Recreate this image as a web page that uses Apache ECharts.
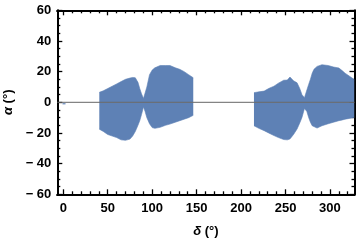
<!DOCTYPE html>
<html>
<head>
<meta charset="utf-8">
<script src="https://cdn.jsdelivr.net/npm/echarts@6/dist/echarts.min.js"></script>
<style>
html,body{margin:0;padding:0;background:#fff;}
#c{width:360px;height:244px;}
</style>
</head>
<body>
<div id="c"></div>
<script>
// ---- data ----
const xMajorTicks = [0, 50, 100, 150, 200, 250, 300];
const xMinorTicks = [10, 20, 30, 40, 60, 70, 80, 90, 110, 120, 130, 140, 160, 170, 180, 190, 210, 220, 230, 240, 260, 270, 280, 290, 310, 320];

const blob1X = [40.5, 45, 50, 55, 60, 65, 70, 75, 78, 81, 84, 86, 88, 90.2, 92, 94, 97, 100, 103, 109, 115, 120, 126, 131, 136, 141, 146.2];
const blob1Top = [6.5, 7.5, 9, 10.5, 12, 13.5, 15, 15.8, 16.2, 16, 13, 9, 5.5, 2.5, 6, 10, 18, 21, 22.5, 24, 24, 24, 22.5, 21.5, 20, 18, 16];
const blob1Bottom = [-17.5, -19, -21, -22, -23, -24.5, -24.8, -24, -22, -19, -15, -12, -8, -3, -6, -10, -14, -16.5, -17, -16.3, -15, -14.2, -13, -12, -11, -10, -8.5];

const blob2X = [214.5, 220, 226, 231, 237, 242, 248, 252, 255, 259, 263, 266, 268.5, 271.3, 274, 276, 278, 280, 282, 285.5, 291, 298, 304, 310, 314, 317, 322, 327.3];
const blob2Top = [6.3, 6.8, 7.3, 9, 10.5, 12.5, 14.4, 14.5, 16.5, 14, 12.7, 9, 5, 3, 8, 11.6, 15, 19, 21.5, 23.4, 24.5, 24, 23, 22.4, 20.5, 19, 17, 14.8];
const blob2Bottom = [-15.3, -17, -18.5, -20, -21.7, -23, -24.3, -24.5, -23.9, -21, -17.4, -13.5, -9.9, -4, -6, -9.9, -13, -15.3, -16, -16.8, -15.3, -14, -13, -12, -11.5, -11, -10.5, -9.9];

const zeroLineX = [-6.75, 327.6];
const zeroLineY = [0, 0];

const strayPoint = [[0.8, -0.9]];

// ---- styling ----
const BLUE = '#5E81B5';
const FONT = 'Liberation Sans, Arial, sans-serif';
const zip = (xs, ys) => xs.map((x, i) => [x, ys[i]]);

function bandSeries(xs, ys) {
  return {
    type: 'line',
    data: zip(xs, ys),
    symbol: 'none',
    lineStyle: { color: BLUE, width: 0.6 },
    areaStyle: { color: BLUE, opacity: 1, origin: 0 },
    silent: true,
    z: 2
  };
}

const XMIN = -6.75, XMAX = 327.6;
const axisLineStyle = { color: '#000', width: 2 };
const tickStyle = { color: '#000', width: 1.3 };

const labelStyle = { fontFamily: FONT, fontWeight: 'bold', fontSize: 13, color: '#000' };

function xAxisDef(pos, values, len, withLabels) {
  const a = {
    type: 'value', position: pos, min: XMIN, max: XMAX,
    axisLine: { show: true, onZero: false, lineStyle: axisLineStyle },
    axisTick: { show: true, inside: true, length: len, customValues: values, lineStyle: tickStyle },
    axisLabel: withLabels ? Object.assign({ show: true, customValues: values, margin: 8 }, labelStyle) : { show: false },
    splitLine: { show: false }
  };
  if (withLabels) {
    a.name = '{i|δ} (°)';
    a.nameLocation = 'middle';
    a.nameGap = 31;
    a.nameTextStyle = Object.assign({
      rich: { i: Object.assign({ fontStyle: 'italic' }, labelStyle) }
    }, labelStyle);
  }
  return a;
}

function yAxisDef(pos, withLabels) {
  const a = {
    type: 'value', position: pos, min: -60, max: 60, interval: 20,
    axisLine: { show: true, onZero: false, lineStyle: axisLineStyle },
    axisTick: { show: true, inside: true, length: 5, lineStyle: tickStyle },
    minorTick: { show: true, splitNumber: 4, length: 3, lineStyle: tickStyle },
    axisLabel: withLabels ? Object.assign({
      show: true, margin: 6,
      formatter: v => v < 0 ? '\u2212 ' + Math.abs(v) : String(v)
    }, labelStyle) : { show: false },
    splitLine: { show: false }
  };
  if (withLabels) {
    a.name = '{i|α} (°)';
    a.nameLocation = 'middle';
    a.nameGap = 40;
    a.nameTextStyle = Object.assign({
      rich: { i: Object.assign({ fontStyle: 'italic' }, labelStyle) }
    }, labelStyle);
  }
  return a;
}

const chart = echarts.init(document.getElementById('c'), null, { renderer: 'canvas' });
chart.setOption({
  animation: false,
  backgroundColor: '#fff',
  grid: { left: 57.3, top: 10.3, right: 5.5, bottom: 49.7, containLabel: false, outerBoundsMode: 'none' },
  xAxis: [
    xAxisDef('bottom', xMajorTicks, 5, true),
    xAxisDef('bottom', xMinorTicks, 3, false),
    xAxisDef('top', xMajorTicks, 5, false),
    xAxisDef('top', xMinorTicks, 3, false)
  ],
  yAxis: [
    yAxisDef('left', true),
    yAxisDef('right', false)
  ],
  series: [
    bandSeries(blob1X, blob1Top),
    bandSeries(blob1X, blob1Bottom),
    bandSeries(blob2X, blob2Top),
    bandSeries(blob2X, blob2Bottom),
    {
      type: 'line',
      data: zip(zeroLineX, zeroLineY),
      symbol: 'none',
      lineStyle: { color: '#666666', width: 1 },
      silent: true,
      z: 5
    },
    {
      type: 'scatter',
      data: strayPoint,
      symbol: 'rect',
      symbolSize: [3, 1.5],
      itemStyle: { color: BLUE },
      z: 4,
      silent: true
    }
  ]
});
</script>
</body>
</html>
